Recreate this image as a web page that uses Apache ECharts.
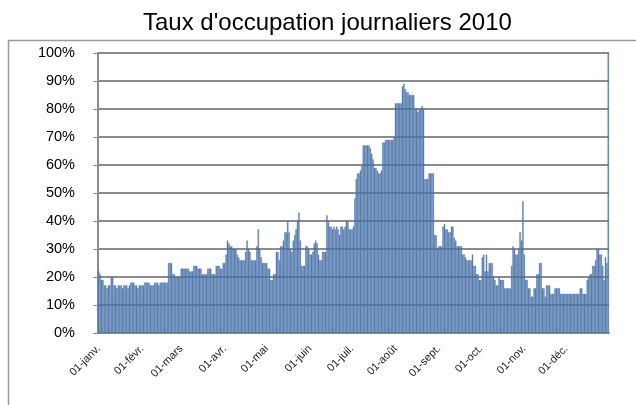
<!DOCTYPE html>
<html>
<head>
<meta charset="utf-8">
<script src="https://cdn.jsdelivr.net/npm/echarts@6/dist/echarts.min.js"></script>
<style>
  html, body { margin: 0; padding: 0; background: #fff; }
  #chart { width: 636px; height: 405px; }
</style>
</head>
<body>
<div id="chart"></div>
<script>
// libellés des mois (axe X)
var monthLabels = ['01-janv.', '01-févr.', '01-mars', '01-avr.', '01-mai', '01-juin',
                   '01-juil.', '01-août', '01-sept.', '01-oct.', '01-nov.', '01-déc.'];

// taux d'occupation journaliers (%), un tableau par mois
var jan = [22,21,19,19,17,17,16,17,17,20,20,17,17,16,17,17,17,16,17,17,17,16,17,18,18,18,17,17,16,17,17];
var feb = [17,17,18,18,18,18,17,17,17,18,18,18,17,18,18,18,18,18,18,25,25,25,21,21,20,20,20,20];
var mar = [23,23,23,23,23,23,22,22,22,24,24,24,23,23,23,21,21,21,21,23,23,23,21,21,21,24,24,24,23,23,25];
var apr = [25,28,33,32,31,31,30,30,30,28,27,26,26,26,26,29,33,30,29,26,26,26,26,31,37,30,27,25,25,25];
var may = [25,23,23,19,19,21,21,29,29,26,31,31,33,36,36,40,36,30,29,33,35,37,40,43,33,24,24,24,31,31,30];
var jun = [28,28,29,32,33,32,28,26,26,29,29,29,42,40,38,38,37,38,37,38,37,35,38,38,37,38,40,40,37,37];
var jul = [37,38,48,55,57,57,58,60,67,67,67,67,67,66,64,62,59,59,58,57,57,58,68,68,69,69,69,69,69,69,70];
var aug = [82,82,82,82,82,88,89,87,86,86,85,85,85,85,80,80,79,80,80,81,80,55,55,55,57,57,57,57,35,35,30];
var sep = [31,31,31,38,39,37,37,36,36,38,38,34,33,31,31,31,31,28,28,27,26,26,26,26,28,24,24,21,21,19];
var oct = [19,27,28,22,28,22,25,25,25,20,19,17,17,20,19,19,19,16,16,16,16,16,24,31,30,28,28,30,36,33,47];
var nov = [28,19,19,16,16,13,13,16,16,21,21,25,25,16,16,13,17,17,17,14,14,14,16,16,16,16,14,14,14,14];
var dec = [14,14,14,14,14,14,14,14,14,14,16,16,14,14,14,19,20,21,21,24,24,26,30,30,28,28,24,19,27,25,100];

var yTicks = [0, 10, 20, 30, 40, 50, 60, 70, 80, 90, 100];

var months = [jan, feb, mar, apr, may, jun, jul, aug, sep, oct, nov, dec];
var categories = [];
var values = [];
var firstDays = {};
months.forEach(function (m, i) {
    firstDays[categories.length] = true;
    m.forEach(function (v, j) {
        categories.push(j === 0 ? monthLabels[i] : '');
        values.push(v);
    });
});

var myChart = echarts.init(document.getElementById('chart'));
var option = {
    animation: false,
    title: {
        text: "Taux d'occupation journaliers 2010",
        left: 138,
        top: 6,
        textStyle: {
            fontFamily: 'Liberation Sans',
            fontWeight: 'normal',
            fontSize: 24,
            color: '#000'
        }
    },
    graphic: [{
        type: 'rect',
        shape: { x: 8.5, y: 40.5, width: 650, height: 400 },
        style: { fill: 'none', stroke: '#9a9a9a', lineWidth: 1.5 },
        z: -1
    }],
    grid: { left: 98, right: 27, top: 53, bottom: 72 },
    xAxis: {
        type: 'category',
        data: categories,
        boundaryGap: true,
        axisLine: { lineStyle: { color: '#8c8c8c', width: 2 } },
        axisTick: {
            interval: function (idx) { return !!firstDays[idx]; },
            length: 4,
            lineStyle: { color: '#8c8c8c' }
        },
        axisLabel: {
            interval: function (idx) { return !!firstDays[idx]; },
            rotate: 45,
            margin: 14,
            fontFamily: 'Liberation Sans',
            fontSize: 11,
            color: '#222'
        },
        splitLine: { show: false }
    },
    yAxis: {
        type: 'value',
        min: yTicks[0],
        max: yTicks[yTicks.length - 1],
        interval: 10,
        axisLine: { show: true, lineStyle: { color: '#8c8c8c', width: 2 } },
        axisTick: { show: true, length: 5, lineStyle: { color: '#8c8c8c' } },
        axisLabel: {
            formatter: '{value}%',
            margin: 23,
            fontFamily: 'Liberation Sans',
            fontSize: 14.5,
            color: '#000'
        },
        splitLine: { lineStyle: { color: '#8c8c8c', width: 2 } }
    },
    series: [{
        type: 'bar',
        data: values,
        barCategoryGap: '0%',
        itemStyle: {
            color: '#4a72a8',
            borderColor: '#4a72a8',
            borderWidth: 0.4,
            opacity: 0.9
        }
    }]
};
myChart.setOption(option);
</script>
</body>
</html>
